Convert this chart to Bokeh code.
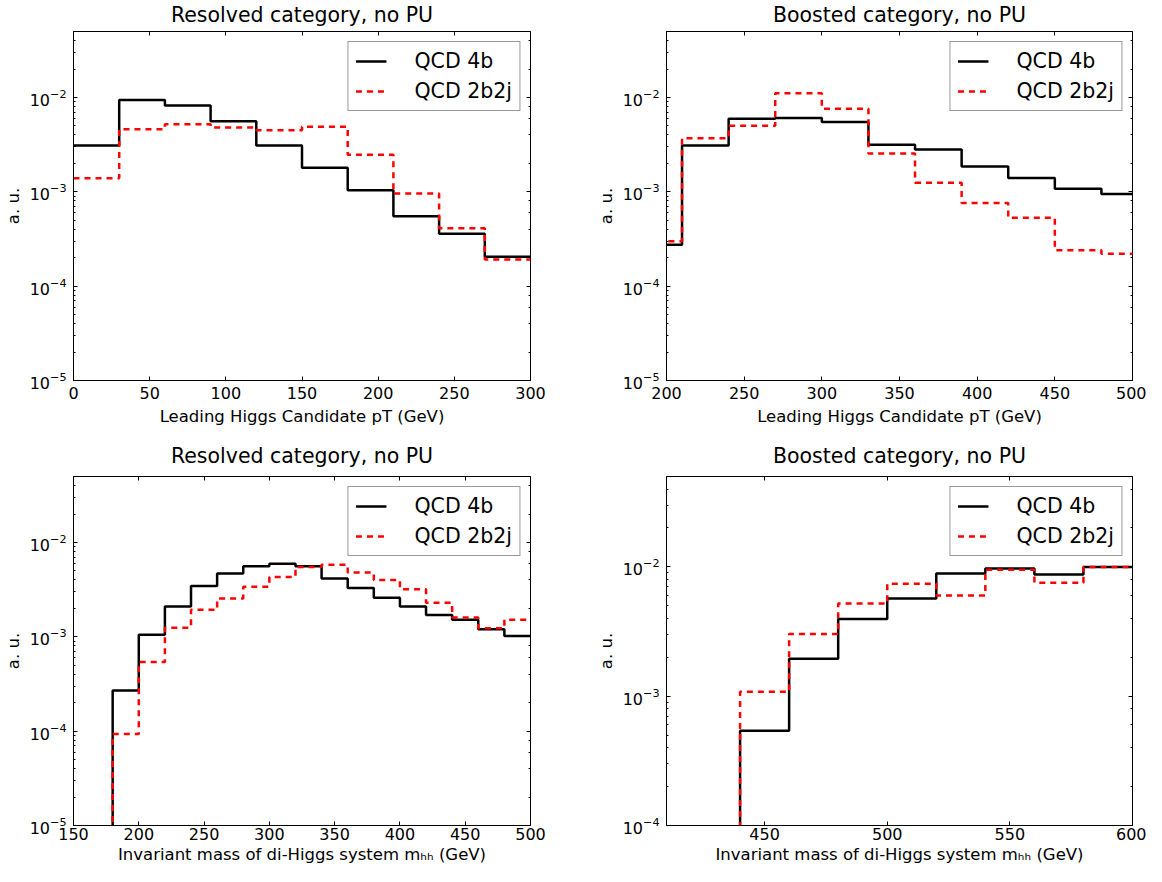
from bokeh.plotting import figure
from bokeh.models import (Range1d, LinearAxis, LogAxis, FixedTicker, LogTicker,
                          Legend, LegendItem, CustomJSTickFormatter)
from bokeh.layouts import column, row
from bokeh.embed import file_html
from bokeh.resources import INLINE

# ---------------- data ----------------
# Leading Higgs candidate pT, resolved category (bin edges in GeV)
pt_res_edges = [0, 30, 60, 90, 120, 150, 180, 210, 240, 270, 300]
pt_res_4b = [3.1e-3, 9.4e-3, 8.2e-3, 5.6e-3, 3.1e-3, 1.8e-3, 1.04e-3, 5.5e-4, 3.6e-4, 2.05e-4]
pt_res_2b2j = [1.39e-3, 4.6e-3, 5.2e-3, 4.8e-3, 4.5e-3, 4.9e-3, 2.47e-3, 9.6e-4, 4.1e-4, 1.92e-4]

# Leading Higgs candidate pT, boosted category
pt_boo_edges = [180, 210, 240, 270, 300, 330, 360, 390, 420, 450, 480, 510]
pt_boo_4b = [2.75e-4, 3.1e-3, 5.95e-3, 6.05e-3, 5.5e-3, 3.15e-3, 2.8e-3, 1.85e-3, 1.4e-3, 1.08e-3, 9.5e-4]
pt_boo_2b2j = [3.0e-4, 3.7e-3, 5.0e-3, 1.11e-2, 7.6e-3, 2.55e-3, 1.25e-3, 7.6e-4, 5.3e-4, 2.4e-4, 2.2e-4]

# di-Higgs invariant mass, resolved category
mhh_res_edges = [160, 180, 200, 220, 240, 260, 280, 300, 320, 340, 360, 380, 400,
                 420, 440, 460, 480, 500]
mhh_res_4b = [0, 2.7e-4, 1.05e-3, 2.1e-3, 3.45e-3, 4.7e-3, 5.6e-3, 5.95e-3, 5.6e-3,
              4.15e-3, 3.3e-3, 2.6e-3, 2.1e-3, 1.7e-3, 1.52e-3, 1.2e-3, 1.02e-3]
mhh_res_2b2j = [0, 9.3e-5, 5.4e-4, 1.25e-3, 1.93e-3, 2.55e-3, 3.4e-3, 4.3e-3, 5.5e-3,
                5.8e-3, 4.8e-3, 4.0e-3, 3.2e-3, 2.3e-3, 1.6e-3, 1.23e-3, 1.52e-3]

# di-Higgs invariant mass, boosted category
mhh_boo_edges = [420, 440, 460, 480, 500, 520, 540, 560, 580, 600]
mhh_boo_4b = [0, 5.4e-4, 1.95e-3, 3.95e-3, 5.7e-3, 8.9e-3, 9.7e-3, 8.75e-3, 1.0e-2]
mhh_boo_2b2j = [0, 1.08e-3, 3.03e-3, 5.2e-3, 7.4e-3, 6.0e-3, 9.5e-3, 7.55e-3, 1.0e-2]

xticks_pt_res = [0, 50, 100, 150, 200, 250, 300]
xticks_pt_boo = [200, 250, 300, 350, 400, 450, 500]
xticks_mhh_res = [150, 200, 250, 300, 350, 400, 450, 500]
xticks_mhh_boo = [450, 500, 550, 600]

series_labels = ["QCD 4b", "QCD 2b2j"]
title_res = "Resolved category, no PU"
title_boo = "Boosted category, no PU"
xlabel_pt = "Leading Higgs Candidate pT (GeV)"
xlabel_mhh = "Invariant mass of di-Higgs system m\u2095\u2095 (GeV)"
ylabel = "a. u."

FLOOR = 1e-9
FONT = "DejaVu Sans"


def step_xy(edges, counts):
    ys = [c if c > 0 else FLOOR for c in counts]
    return list(edges), ys + [ys[-1]]


def make_panel(width, height, xr, yr, xticks, title, xlabel, edges, c4b, c2b,
               mb_left, mb_right, mb_top, mb_bottom, title_standoff, x_std):
    p = figure(width=width, height=height, x_range=Range1d(*xr), y_range=Range1d(*yr),
               y_axis_type="log", output_backend="svg", toolbar_location=None,
               title=title, min_border_left=mb_left, min_border_right=mb_right,
               min_border_top=mb_top, min_border_bottom=mb_bottom)
    p.outline_line_color = "black"
    p.outline_line_width = 1
    p.xgrid.visible = False
    p.ygrid.visible = False
    p.background_fill_color = "white"
    p.border_fill_color = "white"

    p.title.text_font = FONT
    p.title.text_font_size = "20.5px"
    p.title.text_font_style = "normal"
    p.title.text_color = "black"
    p.title.align = "center"
    p.title.standoff = title_standoff

    xa = p.xaxis[0]
    xa.ticker = FixedTicker(ticks=xticks, minor_ticks=[])
    ya = p.yaxis[0]
    for ax in (xa, ya):
        ax.major_tick_in = 4
        ax.major_tick_out = 0
        ax.minor_tick_in = 2
        ax.minor_tick_out = 0
        ax.major_tick_line_color = "black"
        ax.minor_tick_line_color = "black"
        ax.axis_line_color = "black"
        ax.major_label_text_font = FONT
        ax.major_label_text_font_size = "16px"
        ax.major_label_text_color = "black"
        ax.axis_label_text_font = FONT
        ax.axis_label_text_font_size = "16.5px"
        ax.axis_label_text_font_style = "normal"
        ax.axis_label_text_color = "black"
    xa.axis_label = xlabel
    xa.major_label_standoff = x_std[0]
    xa.axis_label_standoff = x_std[1]
    ya.axis_label = ylabel
    ya.major_label_standoff = 7
    ya.axis_label_standoff = 4

    blank = CustomJSTickFormatter(code="return ' ';")
    top = LinearAxis(ticker=FixedTicker(ticks=xticks, minor_ticks=[]),
                     formatter=blank, major_label_standoff=0,
                     major_label_text_font_size="2px",
                     major_tick_in=4, major_tick_out=0, minor_tick_in=0, minor_tick_out=0,
                     major_tick_line_color="black", axis_line_color=None)
    p.add_layout(top, "above")
    right = LogAxis(ticker=LogTicker(), formatter=blank,
                    major_label_text_font_size="2px",
                    major_label_standoff=0, major_tick_in=4, major_tick_out=0,
                    minor_tick_in=2, minor_tick_out=0, major_tick_line_color="black",
                    minor_tick_line_color="black", axis_line_color=None)
    p.add_layout(right, "right")

    x1, y1 = step_xy(edges, c4b)
    x2, y2 = step_xy(edges, c2b)
    r1 = p.step(x1, y1, mode="after", line_color="black", line_width=2.5)
    r2 = p.step(x2, y2, mode="after", line_color="red", line_width=2.5,
                line_dash="6 5")

    legend = Legend(items=[LegendItem(label=series_labels[0], renderers=[r1]),
                           LegendItem(label=series_labels[1], renderers=[r2])],
                    location="top_right")
    legend.margin = 10
    legend.padding = 7
    legend.spacing = 6
    legend.glyph_width = 31
    legend.glyph_height = 24
    legend.label_height = 24
    legend.label_standoff = 28
    legend.label_text_font = FONT
    legend.label_text_font_size = "20.5px"
    legend.label_text_color = "black"
    legend.border_line_color = "#333333"
    legend.border_line_width = 1
    legend.background_fill_color = "white"
    legend.background_fill_alpha = 1.0
    p.add_layout(legend)
    return p


p1 = make_panel(580, 432, (0, 300), (1e-5, 5e-2), xticks_pt_res, title_res, xlabel_pt,
                pt_res_edges, pt_res_4b, pt_res_2b2j, 62, 50, 23, 52, 0, (6, 5))
p2 = make_panel(566, 432, (200, 500), (1e-5, 5e-2), xticks_pt_boo, title_boo, xlabel_pt,
                pt_boo_edges, pt_boo_4b, pt_boo_2b2j, 86, 14, 23, 52, 0, (6, 5))
p3 = make_panel(580, 434, (150, 500), (1e-5, 5e-2), xticks_mhh_res, title_res, xlabel_mhh,
                mhh_res_edges, mhh_res_4b, mhh_res_2b2j, 62, 50, 44, 38, 8, (2, 2))
p4 = make_panel(566, 434, (410, 600), (1e-4, 5e-2), xticks_mhh_boo, title_boo, xlabel_mhh,
                mhh_boo_edges, mhh_boo_4b, mhh_boo_2b2j, 86, 14, 44, 38, 8, (2, 2))

layout = column(row(p1, p2), row(p3, p4))
open("out.html", "w").write(file_html(layout, INLINE))
